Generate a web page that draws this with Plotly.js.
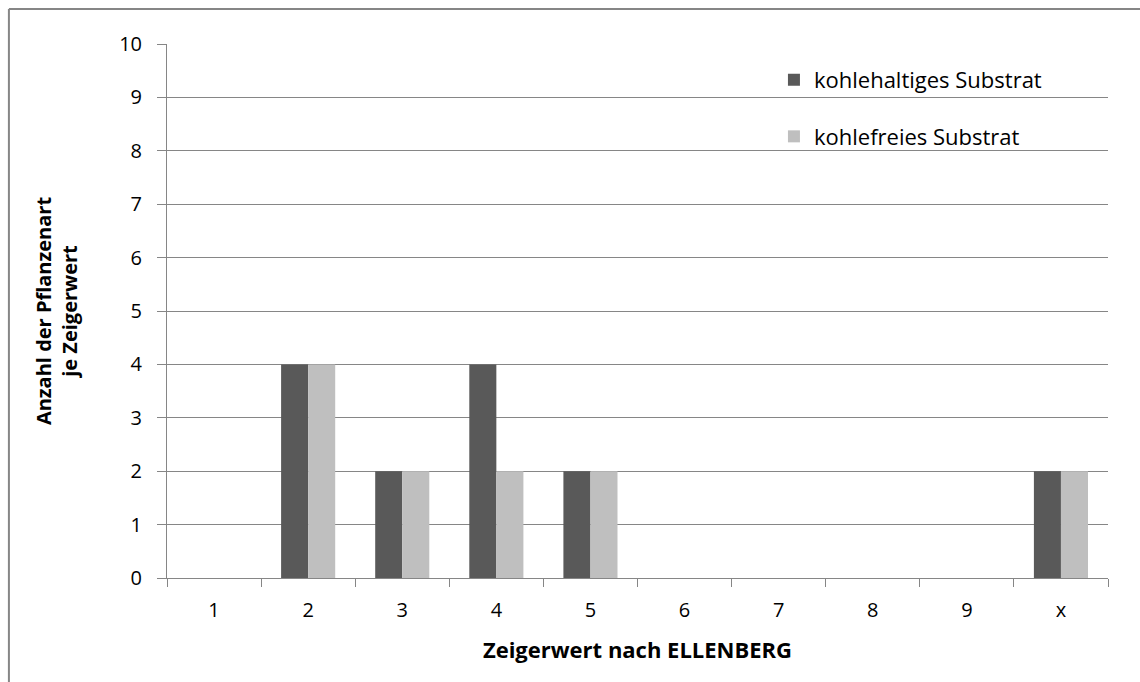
<!DOCTYPE html>
<html><head><meta charset="utf-8">
<script src="https://cdn.plot.ly/plotly-3.0.1.min.js"></script>
<style>body{margin:0;background:#fff}#c{width:1140px;height:682px}</style>
</head><body><div id="c"></div>
<script>
const categories = ["1","2","3","4","5","6","7","8","9","x"];
const kohlehaltig = [0,4,2,4,2,0,0,0,0,2];
const kohlefrei = [0,4,2,2,2,0,0,0,0,2];
const seriesNames = ["kohlehaltiges Substrat","kohlefreies Substrat"];
const yTicks = [0,1,2,3,4,5,6,7,8,9,10];

const font = "'Open Sans', sans-serif";
const data = [
  {type:"bar", x:categories, y:kohlehaltig, name:seriesNames[0], legendgroup:"a",
   marker:{color:"#595959"}},
  {type:"bar", x:categories, y:kohlefrei, name:seriesNames[1], legendgroup:"b",
   marker:{color:"#bfbfbf"}}
];
const layout = {
  width:1140, height:682,
  margin:{l:167, r:32, t:44, b:104},
  paper_bgcolor:"#fff", plot_bgcolor:"#fff",
  font:{family:font, size:20, color:"#000"},
  barmode:"group", bargap:0.425, bargroupgap:0,
  showlegend:true,
  legend:{x:0.645, y:0.972, xanchor:"left", yanchor:"top", bgcolor:"rgba(0,0,0,0)",
          font:{size:22, family:font}, tracegroupgap:25, itemwidth:30},
  xaxis:{type:"category", tickson:"boundaries", ticks:"outside", ticklen:8, tickcolor:"#868686",
         showline:true, linecolor:"#868686", linewidth:1, showgrid:false,
         tickfont:{size:20}, ticklabelstandoff:14,
         title:{text:"<b>Zeigerwert nach ELLENBERG</b>", font:{size:22}, standoff:20}},
  yaxis:{range:[0,10], tickvals:yTicks, ticks:"outside", ticklen:9, tickcolor:"#868686",
         showline:true, linecolor:"#868686", linewidth:1, showgrid:true, gridcolor:"#868686", gridwidth:1,
         zeroline:false, tickfont:{size:20}, ticklabelstandoff:11,
         title:{text:"<b>Anzahl der Pflanzenart<br>je Zeigerwert</b>", font:{size:20}, standoff:36}},
  shapes:[
    {type:"line", xref:"paper", yref:"paper", x0:-0.1680, x1:1.1, y0:1.0655, y1:1.0655,
     line:{color:"#868686", width:2}},
    {type:"line", xref:"paper", yref:"paper", x0:-0.1680, x1:-0.1680, y0:-0.2, y1:1.0655,
     line:{color:"#868686", width:2}}
  ]
};
Plotly.newPlot("c", data, layout, {displayModeBar:false});
</script></body></html>
